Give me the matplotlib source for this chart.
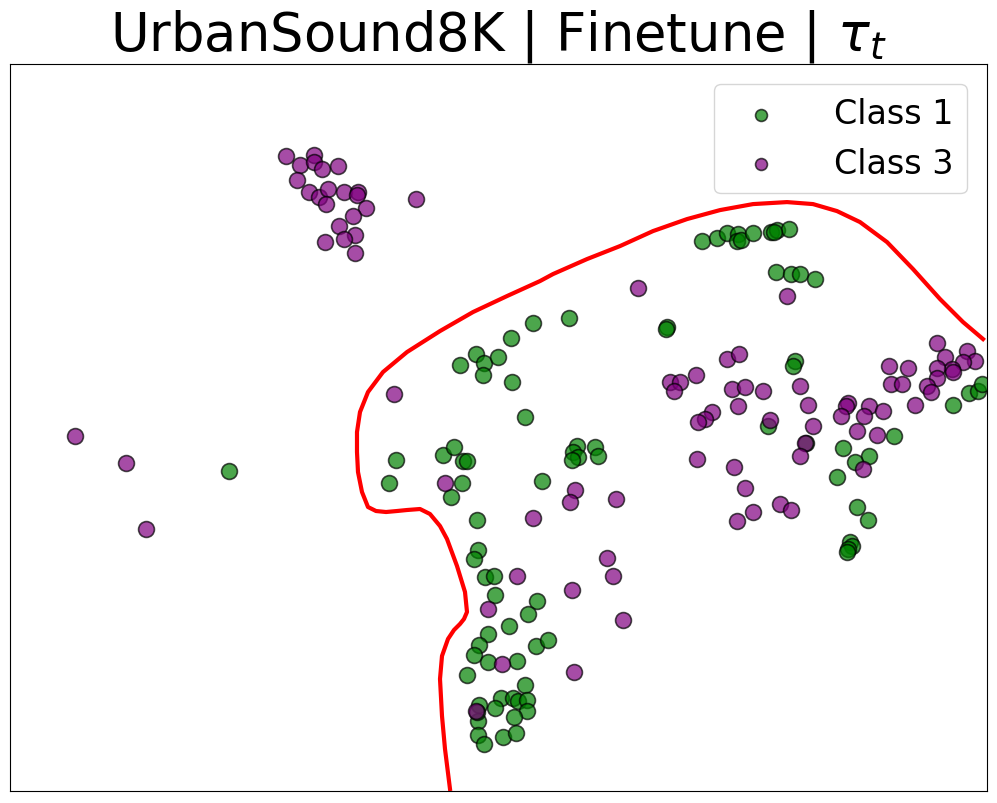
import matplotlib
matplotlib.use("Agg")
import matplotlib.pyplot as plt

# points (x right, y down)
class1_x = [229, 569, 533, 511, 476, 484, 498, 460, 483, 512, 525, 396, 443, 454, 463, 467,
            389, 462, 451, 542, 477, 577, 573, 578, 572, 595, 598,
            478, 474, 485, 494, 495, 537, 528, 509, 488, 479, 474, 488, 517, 536, 548, 467,
            525, 501, 513, 518, 527, 495, 479, 527, 514, 478, 477, 478, 484, 503, 516,
            702, 717, 727, 738, 737, 741, 753, 771, 777, 789, 774, 776, 791, 800, 815, 667,
            666, 795, 793, 768, 806, 894, 843, 869, 855, 837, 857, 868, 850, 852, 848, 847,
            953, 969, 978, 982]
class1_y = [472, 319, 324, 339, 355, 364, 358, 366, 376, 383, 418, 461, 456, 448, 462, 462,
            484, 484, 498, 482, 521, 447, 453, 458, 461, 448, 457,
            551, 560, 578, 577, 596, 602, 615, 627, 635, 646, 656, 663, 662, 647, 641, 676,
            686, 699, 699, 702, 701, 709, 706, 712, 718, 722, 713, 736, 745, 738, 734,
            242, 239, 234, 235, 242, 241, 234, 233, 231, 230, 233, 273, 275, 275, 280, 328,
            330, 362, 367, 427, 444, 437, 449, 457, 463, 478, 508, 521, 543, 547, 550, 553,
            406, 394, 392, 385]

class3_x = [286, 300, 314, 314, 322, 338, 297, 309, 319, 328, 326, 344, 358, 357, 366, 353,
            339, 355, 344, 325, 355, 416, 75, 126, 146,
            394, 445, 575, 570, 616, 533, 517, 607, 613, 572, 488, 623, 502, 574, 476,
            638, 787,
            937, 967, 945, 975, 963, 952, 937, 953, 937, 889, 908, 891, 902, 927, 931, 915,
            727, 739, 670, 680, 674, 696, 732, 745, 763, 738, 712, 705, 698, 800, 808, 848,
            846, 841, 869, 864, 883, 857, 877, 813, 770, 805, 800, 697, 734, 745, 780, 791,
            753, 737, 863]
class3_y = [157, 166, 156, 163, 170, 167, 181, 193, 198, 190, 205, 193, 193, 196, 209, 217,
            227, 236, 240, 243, 254, 200, 437, 464, 530,
            395, 484, 491, 503, 500, 519, 577, 559, 577, 591, 610, 621, 665, 673, 712,
            289, 297,
            344, 352, 358, 362, 363, 370, 369, 373, 379, 367, 369, 385, 385, 387, 393, 406,
            360, 355, 383, 383, 392, 376, 390, 388, 392, 407, 413, 420, 423, 387, 406, 404,
            407, 417, 407, 417, 412, 432, 436, 427, 421, 444, 457, 460, 468, 489, 505, 511,
            513, 522, 470]

# red boundary, traced from the bottom end
curve_x = [450, 445, 442, 440, 442, 448, 454, 460, 464, 467, 465, 457, 447, 440, 430, 420,
           407, 397, 386, 376, 368, 362, 358, 357, 357, 360, 368, 383, 407, 440, 473, 507,
           540, 553, 587, 620, 653, 687, 720, 753, 787, 813, 837, 860, 887, 913, 940, 963,
           983]
curve_y = [790, 750, 717, 680, 657, 640, 631, 625, 620, 613, 593, 567, 540, 527, 515, 510,
           511, 512, 513, 512, 508, 493, 473, 453, 433, 413, 393, 373, 353, 332, 313, 297,
           282, 275, 260, 247, 232, 220, 211, 205, 203, 205, 212, 223, 243, 270, 300, 323,
           340]

fig = plt.figure(figsize=(9.97, 8.04), dpi=100)
ax = fig.add_axes([0.01, 0.015, 0.98, 0.904])

ax.scatter(class1_x, class1_y, s=130, c='green', alpha=0.7, edgecolors='black',
           linewidths=1.2, label='Class 1')
ax.scatter(class3_x, class3_y, s=130, c='purple', alpha=0.7, edgecolors='black',
           linewidths=1.2, label='Class 3')
ax.plot(curve_x, curve_y, color='red', linewidth=3, solid_joinstyle='round')

ax.set_xlim(10, 987)
ax.set_ylim(792, 65)
ax.set_xticks([])
ax.set_yticks([])
ax.set_title(r'UrbanSound8K | Finetune | $\tau_t$', fontsize=38, pad=8)
ax.legend(loc='upper right', fontsize=24, markerscale=0.75, handletextpad=1.2,
          borderaxespad=0.6)

fig.savefig('out.png', dpi=100)
